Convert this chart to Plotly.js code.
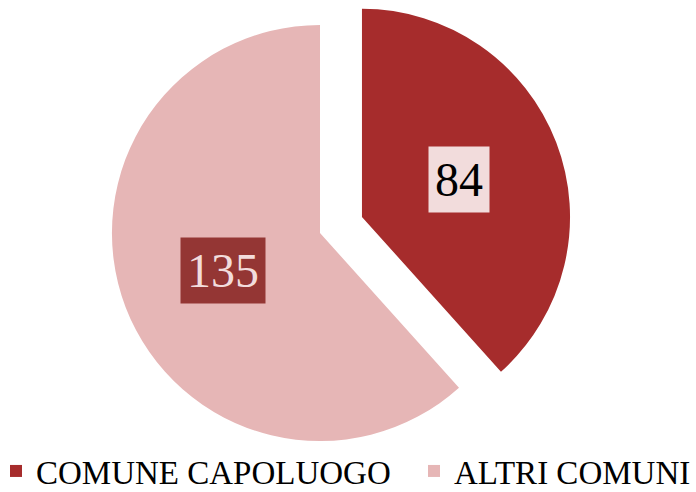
<!DOCTYPE html>
<html>
<head>
<meta charset="utf-8">
<script src="https://cdn.plot.ly/plotly-3.0.1.min.js"></script>
<style>
html,body{margin:0;padding:0;overflow:hidden;background:#fff;}
#chart{position:absolute;left:-4px;top:-40px;width:900px;height:572px;}
</style>
</head>
<body>
<div id="chart"></div>
<script>
const categories = ['COMUNE CAPOLUOGO', 'ALTRI COMUNI'];
const values = [84, 135];
const sliceColors = ['#a62c2c', '#e6b6b6'];
const pulls = [0.216, 0];
const labelBg = ['#f2dcdc', '#943634'];
const labelFg = ['#000000', '#f2dcdc'];

const W = 900, H = 572;
const dom = {x: [71 / W, 577 / W], y: [1 - 526 / H, 1 - 20 / H]};

const maxPull = Math.max(...pulls);
const total = values.reduce((a, b) => a + b, 0);
const boxW = (dom.x[1] - dom.x[0]) * W, boxH = (dom.y[1] - dom.y[0]) * H;
const rPx = Math.min(boxW, boxH) / 2 / (1 + maxPull);
const cx = (dom.x[0] + dom.x[1]) / 2, cy = (dom.y[0] + dom.y[1]) / 2;
let cum = 0;
const annotations = values.map((v, i) => {
  const mid = (cum + v / 2) / total * 2 * Math.PI;
  cum += v;
  const d = (0.5 + pulls[i]) * rPx;
  return {
    xref: 'paper', yref: 'paper',
    x: cx + d * Math.sin(mid) / W,
    y: cy + d * Math.cos(mid) / H,
    xanchor: 'center', yanchor: 'middle',
    text: String(v),
    showarrow: false,
    bgcolor: labelBg[i],
    borderpad: 6,
    font: {family: 'Liberation Serif, Times New Roman, serif', size: 48, color: labelFg[i]}
  };
});

const trace = {
  type: 'pie',
  labels: categories,
  values: values,
  sort: false,
  direction: 'clockwise',
  rotation: 0,
  pull: pulls,
  domain: dom,
  textinfo: 'none',
  hoverinfo: 'label+value',
  marker: {colors: sliceColors, line: {width: 0}}
};

const layout = {
  width: W, height: H,
  margin: {l: 0, r: 0, t: 0, b: 0},
  paper_bgcolor: '#ffffff',
  showlegend: true,
  legend: {
    orientation: 'h',
    x: 0, xanchor: 'left',
    y: 1 - 511 / H, yanchor: 'middle',
    entrywidth: 373,
    font: {family: 'Liberation Serif, Times New Roman, serif', size: 33, color: '#000'},
    bgcolor: 'rgba(0,0,0,0)'
  },
  annotations: annotations
};

Plotly.newPlot('chart', [trace], layout, {displayModeBar: false, staticPlot: true});
</script>
</body>
</html>
